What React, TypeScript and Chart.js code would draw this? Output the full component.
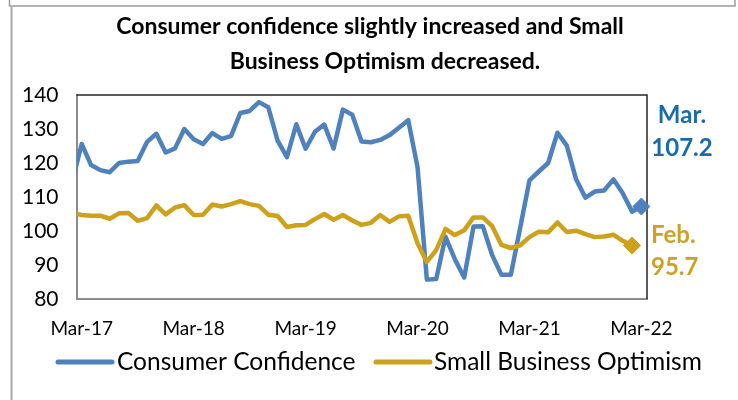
import React, { useEffect, useRef } from "react";
import { Chart, registerables } from "chart.js";

Chart.register(...registerables);

// Monthly categories, Feb-17 .. Mar-22 (Feb-17 sits just left of the plot edge and is clipped)
const months = [
  "Feb-17", "Mar-17", "Apr-17", "May-17", "Jun-17", "Jul-17", "Aug-17", "Sep-17", "Oct-17", "Nov-17", "Dec-17",
  "Jan-18", "Feb-18", "Mar-18", "Apr-18", "May-18", "Jun-18", "Jul-18", "Aug-18", "Sep-18", "Oct-18", "Nov-18", "Dec-18",
  "Jan-19", "Feb-19", "Mar-19", "Apr-19", "May-19", "Jun-19", "Jul-19", "Aug-19", "Sep-19", "Oct-19", "Nov-19", "Dec-19",
  "Jan-20", "Feb-20", "Mar-20", "Apr-20", "May-20", "Jun-20", "Jul-20", "Aug-20", "Sep-20", "Oct-20", "Nov-20", "Dec-20",
  "Jan-21", "Feb-21", "Mar-21", "Apr-21", "May-21", "Jun-21", "Jul-21", "Aug-21", "Sep-21", "Oct-21", "Nov-21", "Dec-21",
  "Jan-22", "Feb-22", "Mar-22",
];

const consumerConfidence = [
  114.8, 125.6, 119.4, 117.9, 117.3, 120.0, 120.4, 120.6, 126.2, 128.6, 123.1,
  124.3, 130.0, 127.0, 125.6, 128.8, 127.1, 127.9, 134.7, 135.3, 137.9, 136.4, 126.6,
  121.7, 131.4, 124.2, 129.2, 131.3, 124.3, 135.7, 134.2, 126.3, 126.1, 126.8, 128.2,
  130.4, 132.6, 118.8, 85.7, 85.9, 98.3, 91.7, 86.3, 101.3, 101.4, 92.9, 87.1,
  87.1, 100.9, 114.9, 117.5, 120.0, 128.9, 125.1, 115.2, 109.8, 111.6, 111.9, 115.2,
  111.1, 105.7, 107.2,
];

const smallBusinessOptimism = [
  105.3, 104.7, 104.5, 104.5, 103.6, 105.2, 105.3, 103.0, 103.8, 107.5, 104.9,
  106.9, 107.6, 104.7, 104.8, 107.8, 107.2, 107.9, 108.8, 107.9, 107.4, 104.8, 104.4,
  101.2, 101.7, 101.8, 103.5, 105.0, 103.3, 104.7, 103.1, 101.8, 102.4, 104.7, 102.7,
  104.3, 104.5, 96.4, 90.9, 94.4, 100.6, 98.8, 100.2, 104.0, 104.0, 101.4, 95.9,
  95.0, 95.8, 98.2, 99.8, 99.6, 102.5, 99.7, 100.1, 99.1, 98.2, 98.4, 98.9,
  97.1, 95.7,
];

const xTickLabels = ["Mar-17", "Mar-18", "Mar-19", "Mar-20", "Mar-21", "Mar-22"];
const yMin = 80;
const yMax = 140;
const yStep = 10;

const titleLines = ["Consumer confidence slightly increased and Small", "Business Optimism decreased."];
const seriesNames = ["Consumer Confidence", "Small Business Optimism"];
const ccNote = ["Mar.", "107.2"];
const sboNote = ["Feb.", "95.7"];

const BLUE = "#4F81BD";
const GOLD = "#CDA11B";
const BLUE_TEXT = "#1A6BAE";
const GOLD_TEXT = "#C9A227";
const FONT = "Lato, 'Open Sans', sans-serif";

export default function App() {
  const ref = useRef<HTMLCanvasElement>(null);

  useEffect(() => {
    const canvas = ref.current;
    if (!canvas) return;

    const ccPoints = consumerConfidence.map((v, i) => ({ x: i, y: v }));
    const sboPoints = smallBusinessOptimism.map((v, i) => ({ x: i, y: v }));
    const ccLast = ccPoints.length - 1;
    const sboLast = sboPoints.length - 1;
    const tickIdx = xTickLabels.map((l) => months.indexOf(l));

    const overlay = {
      id: "overlay",
      beforeDraw(chart: any) {
        const ctx = chart.ctx;
        ctx.save();
        ctx.fillStyle = "#fff";
        ctx.fillRect(0, 0, chart.width, chart.height);
        ctx.strokeStyle = "#9c9c9c";
        ctx.lineWidth = 1.5;
        ctx.beginPath();
        ctx.moveTo(9.5, 0);
        ctx.lineTo(9.5, 6);
        ctx.lineTo(735, 6);
        ctx.lineTo(735, 0);
        ctx.stroke();
        ctx.strokeStyle = "#a8a8a8";
        ctx.lineWidth = 2;
        ctx.beginPath();
        ctx.moveTo(11.5, 7);
        ctx.lineTo(11.5, 400);
        ctx.stroke();
        ctx.restore();
      },
      beforeDatasetsDraw(chart: any) {
        const { ctx, chartArea } = chart;
        ctx.save();
        ctx.strokeStyle = "#262626";
        ctx.lineWidth = 1.5;
        ctx.beginPath();
        ctx.moveTo(chartArea.left, chartArea.top);
        ctx.lineTo(chartArea.right, chartArea.top);
        ctx.lineTo(chartArea.right, chartArea.bottom);
        ctx.stroke();
        ctx.restore();
      },
      afterDraw(chart: any) {
        const { ctx } = chart;
        ctx.save();
        // title
        ctx.fillStyle = "#000";
        ctx.font = `bold 23px ${FONT}`;
        ctx.textAlign = "center";
        ctx.textBaseline = "middle";
        ctx.fillText(titleLines[0], 370, 27);
        ctx.fillText(titleLines[1], 385, 62);

        // legend
        const legendY = 362;
        const items = [
          { color: BLUE, x0: 58, x1: 112, tx: 117, text: seriesNames[0] },
          { color: GOLD, x0: 376, x1: 430, tx: 434, text: seriesNames[1] },
        ];
        ctx.lineCap = "round";
        ctx.lineWidth = 5;
        ctx.textAlign = "left";
        ctx.font = `24.5px ${FONT}`;
        items.forEach((it) => {
          ctx.strokeStyle = it.color;
          ctx.beginPath();
          ctx.moveTo(it.x0, legendY);
          ctx.lineTo(it.x1, legendY);
          ctx.stroke();
          ctx.fillStyle = "#000";
          ctx.fillText(it.text, it.tx, legendY);
        });

        // end-of-series notes
        ctx.font = `bold 24px ${FONT}`;
        ctx.textAlign = "center";
        ctx.fillStyle = BLUE_TEXT;
        ctx.fillText(ccNote[0], 682, 115);
        ctx.fillText(ccNote[1], 682, 148);
        ctx.textAlign = "left";
        ctx.fillStyle = GOLD_TEXT;
        ctx.fillText(sboNote[0], 651, 235);
        ctx.fillText(sboNote[1], 651, 267);
        ctx.restore();
      },
    };

    const chart = new Chart(canvas, {
      type: "line",
      data: {
        datasets: [
          {
            label: seriesNames[0],
            data: ccPoints,
            borderColor: BLUE,
            backgroundColor: BLUE,
            borderWidth: 4.5,
            borderJoinStyle: "round",
            tension: 0,
            pointStyle: "rectRot",
            pointRadius: (c: any) => (c.dataIndex === ccLast ? 8.5 : 0),
            pointBackgroundColor: BLUE,
            pointBorderColor: BLUE,
            pointBorderWidth: 1,
            clip: { left: 0, top: false, right: false, bottom: false },
            order: 1,
          } as any,
          {
            label: seriesNames[1],
            data: sboPoints,
            borderColor: GOLD,
            backgroundColor: GOLD,
            borderWidth: 4.5,
            borderJoinStyle: "round",
            tension: 0,
            pointStyle: "rectRot",
            pointRadius: (c: any) => (c.dataIndex === sboLast ? 8.5 : 0),
            pointBackgroundColor: GOLD,
            pointBorderColor: GOLD,
            pointBorderWidth: 1,
            clip: { left: 0, top: false, right: false, bottom: false },
            order: 0,
          } as any,
        ],
      },
      options: {
        responsive: false,
        animation: false,
        devicePixelRatio: 1,
        layout: { padding: { left: 0, top: 95, right: 91, bottom: 0 } },
        plugins: {
          legend: { display: false },
          title: { display: false },
          tooltip: { enabled: false },
        },
        scales: {
          x: {
            type: "linear",
            min: 0.44,
            max: 61.6,
            afterBuildTicks: (s: any) => {
              s.ticks = tickIdx.map((v) => ({ value: v }));
            },
            afterFit: (s: any) => {
              s.height = 101;
            },
            ticks: {
              autoSkip: false,
              maxRotation: 0,
              padding: 18,
              color: "#000",
              font: { family: FONT, size: 19 },
              callback: (v: any) => months[v as number],
            },
            grid: { display: false, drawTicks: false },
            border: { display: true, color: "#8c8c8c", width: 2 },
          },
          y: {
            min: yMin,
            max: yMax,
            afterFit: (s: any) => {
              s.width = 76.5;
            },
            ticks: {
              stepSize: yStep,
              padding: 18,
              color: "#000",
              font: { family: FONT, size: 21 },
            },
            grid: { display: false, drawTicks: false },
            border: { display: true, color: "#8c8c8c", width: 2 },
          },
        },
      },
      plugins: [overlay],
    } as any);

    let alive = true;
    if ((document as any).fonts && (document as any).fonts.load) {
      Promise.all([
        (document as any).fonts.load(`20px Lato`),
        (document as any).fonts.load(`bold 20px Lato`),
      ]).then(() => {
        if (alive) chart.update();
      }).catch(() => {});
    }

    return () => {
      alive = false;
      chart.destroy();
    };
  }, []);

  return (
    <div style={{ position: "fixed", left: 0, top: 0, width: 738, height: 400, background: "#fff" }}>
      <canvas ref={ref} width={738} height={400} style={{ display: "block", width: 738, height: 400 }} />
    </div>
  );
}
